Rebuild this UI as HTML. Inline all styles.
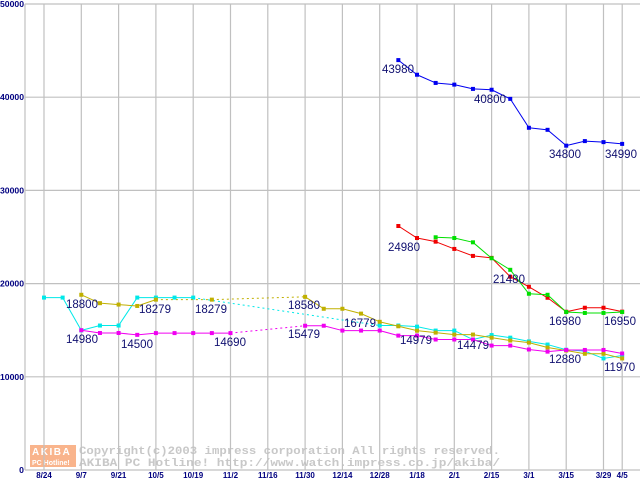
<!DOCTYPE html>
<html><head><meta charset="utf-8"><style>
body{margin:0;background:#fff;width:640px;height:480px;overflow:hidden}
svg{display:block}
</style></head><body>
<svg id="chart" width="640" height="480" xmlns="http://www.w3.org/2000/svg" font-family="Liberation Sans, sans-serif"></svg>
<script>
const categories=["8/24","9/7","9/21","10/5","10/19","11/2","11/16","11/30","12/14","12/28","1/18","2/1","2/15","3/1","3/15","3/29","4/5"];
const yTicks=[0,10000,20000,30000,40000,50000];
const N=null;
const cyan=[18500,18500,14980,15500,15500,18500,18500,18500,18500,N,N,N,N,N,N,N,N,N,15500,15500,15380,14960,14960,14000,14479,14200,13800,13460,12900,12750,11970,12290];
const olive=[N,N,18800,17900,17750,17600,18279,N,N,18279,N,N,N,N,18580,17300,17300,16780,15900,15420,14950,14740,14530,14530,14200,13890,13670,13140,12820,12470,12470,11970];
const magenta=[N,N,15000,14700,14700,14500,14690,14690,14690,14690,14690,N,N,N,15479,15479,14960,14960,14960,14420,14420,14000,14000,14000,13350,13350,12930,12700,12880,12880,12880,12500];
const red=[N,N,N,N,N,N,N,N,N,N,N,N,N,N,N,N,N,N,N,26180,24890,24500,23720,22970,22760,20740,19660,18480,16980,17410,17410,16990];
const green=[N,N,N,N,N,N,N,N,N,N,N,N,N,N,N,N,N,N,N,N,N,24970,24890,24430,22720,21480,18910,18800,16950,16850,16850,16950];
const blue=[N,N,N,N,N,N,N,N,N,N,N,N,N,N,N,N,N,N,N,43980,42410,41530,41350,40890,40800,39820,36720,36500,34800,35290,35180,34990];
const annotations=[["18800",66,308],["14980",66,343],["18279",139,313],["14500",121,348],["18279",195,313],["14690",214,346],["18580",288,309],["15479",288,338],["16779",344,327],["14979",400,344],["14479",457,349],["24980",388,251],["21480",493,283],["16980",549,325],["16950",604,325],["12880",549,363],["11970",604,371],["43980",382,73],["40800",474,103],["34800",549,158],["34990",605,158]];
const svg=document.getElementById('chart');
const NS='http://www.w3.org/2000/svg';
const X0=25,X1=640,YT=4,YB=470;
function xScale(j){return 44+18.65*j;}
function yScale(v){return YB-(v/50000)*(YB-YT);}
function mk(tag,attrs,parent){const e=document.createElementNS(NS,tag);for(const k in attrs)e.setAttribute(k,attrs[k]);(parent||svg).appendChild(e);return e;}
const wm=mk('g',{});


const logo=mk('rect',{x:30,y:445,width:46,height:22,fill:'#f9b48c'},wm);


const l1=mk('text',{x:32,y:455,'font-size':10,'font-weight':'bold',fill:'#fff','letter-spacing':'1.5'},wm);l1.textContent='AKIBA';
const l2=mk('text',{x:32,y:465,'font-size':7,'font-weight':'bold',fill:'#fff'},wm);l2.textContent='PC Hotline!';
const c1=mk('text',{x:79,y:454,'font-size':11,'font-family':'Liberation Mono, monospace','font-weight':'bold',fill:'#c8c8c8',textLength:421,lengthAdjust:'spacingAndGlyphs'},wm);c1.textContent='Copyright(c)2003 impress corporation All rights reserved.';
const c2=mk('text',{x:79,y:466,'font-size':11,'font-family':'Liberation Mono, monospace','font-weight':'bold',fill:'#c8c8c8',textLength:421,lengthAdjust:'spacingAndGlyphs','xml:space':'preserve'},wm);c2.textContent='AKIBA PC Hotline!  http://www.watch.impress.co.jp/akiba/';
yTicks.forEach(v=>{const y=yScale(v);
 const g=mk('line',{x1:X0,x2:X1,y1:y,y2:y,stroke:'#c0c0c0','stroke-width':1.2});
 
 
 const t=mk('text',{x:X0-1,y:y+3,'text-anchor':'end','font-size':8,'font-weight':'bold',fill:'#000080',textLength:String(v).length*4.8,lengthAdjust:'spacingAndGlyphs'});
 
 
 t.textContent=v;});
const ax=mk('line',{x1:X0,x2:X0,y1:YT,y2:YB,stroke:'#c0c0c0','stroke-width':1.2});


categories.forEach((c,i)=>{const x=44+37.3*i-(i===16?18.6:0);
 const g=mk('line',{x1:x,x2:x,y1:YT,y2:YB,stroke:'#c0c0c0','stroke-width':1.2});
 
 
 const t=mk('text',{x:x,y:478,'text-anchor':'middle','font-size':8,'font-weight':'bold',fill:'#000080'});
 
 
 t.textContent=c;});
function drawSeries(arr,color,name){
 const g=mk('g',{});
 
 
 let prev=-1;
 arr.forEach((v,j)=>{if(v===null)return;
  if(prev>=0){const dotted=(j-prev>1);
   const l=mk('line',{x1:xScale(prev),y1:yScale(arr[prev]),x2:xScale(j),y2:yScale(v),stroke:color,'stroke-width':1,'stroke-dasharray':dotted?'2,3':'none'},g);
   
   }
  prev=j;});
 arr.forEach((v,j)=>{if(v===null)return;
  const m=mk('rect',{x:xScale(j)-2,y:yScale(v)-2,width:4,height:4,fill:color},g);
  
  });
}
drawSeries(cyan,'#00e8e8','cyan');
drawSeries(olive,'#c0b000','olive');
drawSeries(magenta,'#f000f0','magenta');
drawSeries(red,'#f00000','red');
drawSeries(green,'#00e000','green');
drawSeries(blue,'#0000f0','blue');
annotations.forEach(a=>{
 const t=mk('text',{x:a[1],y:a[2],'font-size':11.5,fill:'#101070'});
 
 
 t.textContent=a[0];});
</script>
</body></html>
